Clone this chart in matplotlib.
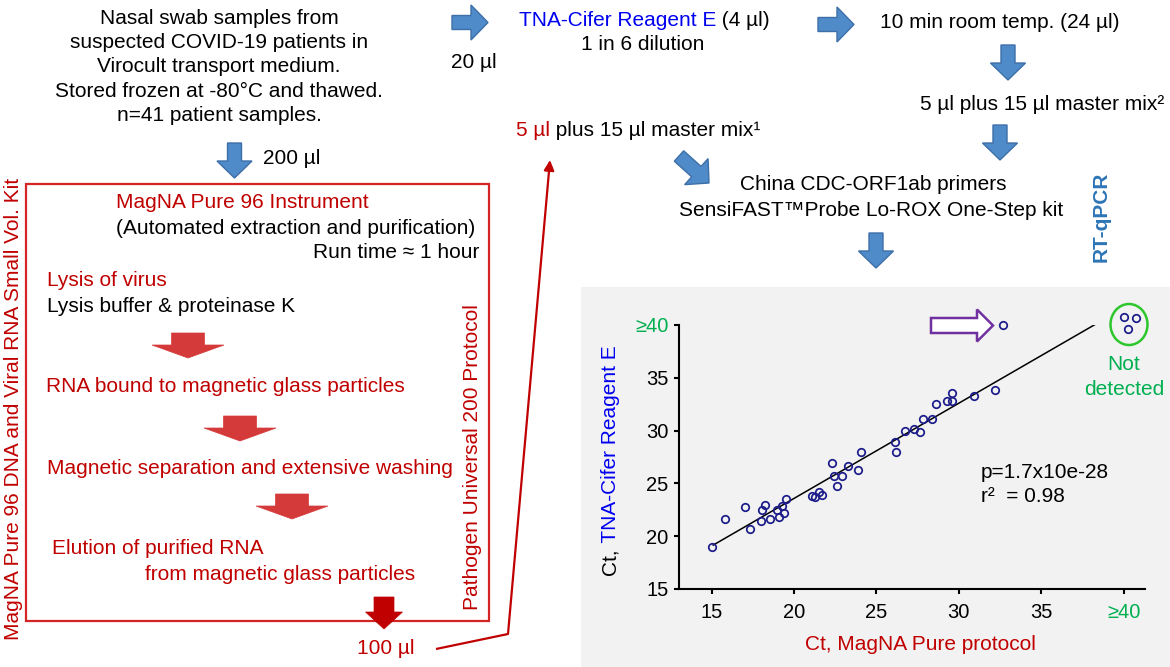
import matplotlib.pyplot as plt
from matplotlib.patches import FancyArrow, Rectangle, Ellipse
import numpy as np

plt.rcParams['font.family'] = ['Liberation Sans', 'DejaVu Sans']

# Ct values of the detected samples: MagNA Pure protocol vs TNA-Cifer Reagent E
ct_magna = [15.0, 15.8, 17.05, 17.35, 17.97, 18.06, 18.24, 18.54, 18.97, 19.1, 19.27, 19.4, 19.5,
            21.1, 21.26, 21.5, 21.7, 22.3, 22.4, 22.6, 22.9, 23.3, 23.86, 24.06,
            26.1, 26.19, 26.76, 27.26, 27.67, 27.83, 28.35, 28.6, 29.3, 29.6, 29.6, 30.94, 32.2, 32.7]
ct_cifer = [18.98, 21.6, 22.8, 20.7, 21.46, 22.48, 22.95, 21.6, 22.5, 21.8, 22.86, 22.2, 23.5,
            23.8, 23.75, 24.2, 23.9, 26.95, 25.7, 24.76, 25.7, 26.67, 26.3, 28.0,
            28.95, 28.0, 30.0, 30.16, 29.84, 31.1, 31.1, 32.48, 32.8, 33.55, 32.8, 33.24, 33.87, 40.0]
# samples not detected by either method (drawn at >=40)
nd_magna = [40.0, 40.74, 40.28]
nd_cifer = [40.76, 40.7, 39.64]

ticks = [15, 20, 25, 30, 35, 40]
tick_labels = ['15', '20', '25', '30', '35', '≥40']
fit_range = [15.1, 38.5]

DRED = '#C00000'
BLUE_TXT = '#0000F0'
GREEN = '#00B050'
ARROW_BLUE = '#4F8AC9'
ARROW_BLUE_EDGE = '#3D6FA8'
ARROW_RED = '#D43A3A'
FS = 15
LS = 1.35

fig = plt.figure(figsize=(11.7, 6.67), dpi=100)

# diagram layer in pixel coordinates
ax0 = fig.add_axes([0, 0, 1, 1])
ax0.set_xlim(0, 1170)
ax0.set_ylim(667, 0)
ax0.axis('off')


def blue_arrow(x, y, dx, dy):
    ax0.add_patch(FancyArrow(x, y, dx, dy, width=14, head_width=35, head_length=17,
                             length_includes_head=True, fc=ARROW_BLUE, ec=ARROW_BLUE_EDGE, lw=1))


def red_arrow(x, y, dx, dy, w=33, hw=72, hl=13, color=ARROW_RED):
    ax0.add_patch(FancyArrow(x, y, dx, dy, width=w, head_width=hw, head_length=hl,
                             length_includes_head=True, fc=color, ec=color, lw=0.5))


def txt(x, y, s, color='black', ha='left', **kw):
    return ax0.text(x, y, s, color=color, ha=ha, va='center', fontsize=kw.pop('fontsize', FS), **kw)


def txt_pair(x, y, s1, c1, s2, c2):
    t1 = txt(x, y, s1, color=c1)
    ax0.annotate(s2, xy=(1, 0.5), xycoords=t1, ha='left', va='center', color=c2, fontsize=FS)


# gray panel behind the scatter
ax0.add_patch(Rectangle((581, 287), 589, 380, fc='#F2F2F2', ec='none'))

# sample description
txt(219, 67, 'Nasal swab samples from\nsuspected COVID-19 patients in\nVirocult transport medium.\n'
    'Stored frozen at -80°C and thawed.\nn=41 patient samples.', ha='center',
    multialignment='center', linespacing=LS)
blue_arrow(234.5, 143, 0, 35)
txt(263, 159, '200 µl')

# MagNA Pure box
ax0.add_patch(Rectangle((26, 184), 463, 437, fill=False, ec='#D42424', lw=1.6))
txt(116, 202, 'MagNA Pure 96 Instrument', color=DRED)
txt(116, 228, '(Automated extraction and purification)')
txt(479, 253, 'Run time ≈ 1 hour', ha='right')
txt(47, 280, 'Lysis of virus', color=DRED)
txt(47, 306, 'Lysis buffer & proteinase K')
red_arrow(188, 333, 0, 25)
txt(46, 387, 'RNA bound to magnetic glass particles', color=DRED)
red_arrow(240, 416, 0, 25)
txt(47, 468, 'Magnetic separation and extensive washing', color=DRED)
red_arrow(292, 494, 0, 25)
txt(52, 549, 'Elution of purified RNA', color=DRED)
txt(145, 575, 'from magnetic glass particles', color=DRED)
red_arrow(384, 597, 0, 32, w=20, hw=37, hl=17, color=DRED)
txt(386, 649, '100 µl', color=DRED, ha='center')
ax0.text(13.5, 640, 'MagNA Pure 96 DNA and Viral RNA Small Vol. Kit', rotation=90,
         ha='center', va='bottom', color=DRED, fontsize=FS)
ax0.text(473, 610, 'Pathogen Universal 200 Protocol', rotation=90,
         ha='center', va='bottom', color=DRED, fontsize=FS)

# thin red transfer arrow
ax0.plot([436, 508], [649, 634], color=DRED, lw=1.6, solid_capstyle='butt')
ax0.annotate('', xy=(550, 160), xytext=(508, 634),
             arrowprops=dict(arrowstyle='-|>', color=DRED, lw=1.6, mutation_scale=15,
                             shrinkA=0, shrinkB=0))
txt_pair(516, 130, '5 µl', DRED, ' plus 15 µl master mix¹', 'black')

# TNA-Cifer branch
blue_arrow(452, 22.5, 36, 0)
txt(473.6, 62, '20 µl', ha='center')
txt_pair(518.6, 20, 'TNA-Cifer Reagent E', BLUE_TXT, ' (4 µl)', 'black')
txt(643, 45, '1 in 6 dilution', ha='center')
blue_arrow(818, 24.5, 36, 0)
txt(1000, 23, '10 min room temp. (24 µl)', ha='center')
blue_arrow(1008, 45, 0, 35)
txt(920, 105, '5 µl plus 15 µl master mix²')
blue_arrow(1000, 125, 0, 35)
blue_arrow(679, 156, 30, 27)

# RT-qPCR
txt(873, 184, 'China CDC-ORF1ab primers', ha='center')
txt(871, 210, 'SensiFAST™Probe Lo-ROX One-Step kit', ha='center')
ax0.text(1101, 217, 'RT-qPCR', rotation=90, ha='center', va='center', color='#2E75B6',
         fontsize=FS, fontweight='bold')
blue_arrow(876, 233, 0, 35)

# scatter annotations
t1 = ax0.text(610, 575, 'Ct,', rotation=90, ha='center', va='bottom', fontsize=FS)
ax0.annotate(' TNA-Cifer Reagent E', xy=(0.5, 1), xycoords=t1, rotation=90,
             ha='center', va='bottom', color=BLUE_TXT, fontsize=FS)
txt(920, 644, 'Ct, MagNA Pure protocol', color=DRED, ha='center')
txt(981, 473, 'p=1.7x10e-28')
txt(981, 497, 'r²  = 0.98')
ax0.add_patch(FancyArrow(931, 325.5, 62, 0, width=15, head_width=32, head_length=16,
                         length_includes_head=True, fc='white', ec='#7030A0', lw=1.8))
ax0.add_patch(Ellipse((1129, 324.5), 37, 41, fill=False, ec='#2DC72D', lw=1.8))
txt(1124, 377, 'Not\ndetected', color=GREEN, ha='center', multialignment='center', linespacing=LS)

# scatter plot
ax = fig.add_axes([678.6 / 1170, 1 - 589 / 667, (1144.5 - 678.6) / 1170, 264 / 667])
ax.patch.set_alpha(0)
ax.set_xlim(13.0, 41.26)
ax.set_ylim(15, 40)
for s in ['top', 'right']:
    ax.spines[s].set_visible(False)
for s in ['left', 'bottom']:
    ax.spines[s].set_linewidth(1.5)

mx = np.array(ct_magna)
cy = np.array(ct_cifer)
keep = cy < 40
slope, icpt = np.polyfit(mx[keep], cy[keep], 1)
fx = np.array(fit_range)
ax.plot(fx, slope * fx + icpt, color='black', lw=1.1)

ax.plot(ct_magna, ct_cifer, 'o', mfc='none', mec='#1B1B8A', ms=5.4, mew=1.25, clip_on=False)
ax.plot(nd_magna, nd_cifer, 'o', mfc='none', mec='#1B1B8A', ms=5.4, mew=1.25, clip_on=False)

ax.set_xticks(ticks)
ax.set_xticklabels(tick_labels)
ax.set_yticks(ticks)
ax.set_yticklabels(tick_labels)
ax.tick_params(axis='both', labelsize=14.5, length=3.8, width=1.5, direction='out')
ax.tick_params(axis='x', pad=6.5)
ax.tick_params(axis='y', pad=3.5)
ax.get_xticklabels()[-1].set_color(GREEN)
ax.get_yticklabels()[-1].set_color(GREEN)

fig.savefig('out.png', dpi=100)
